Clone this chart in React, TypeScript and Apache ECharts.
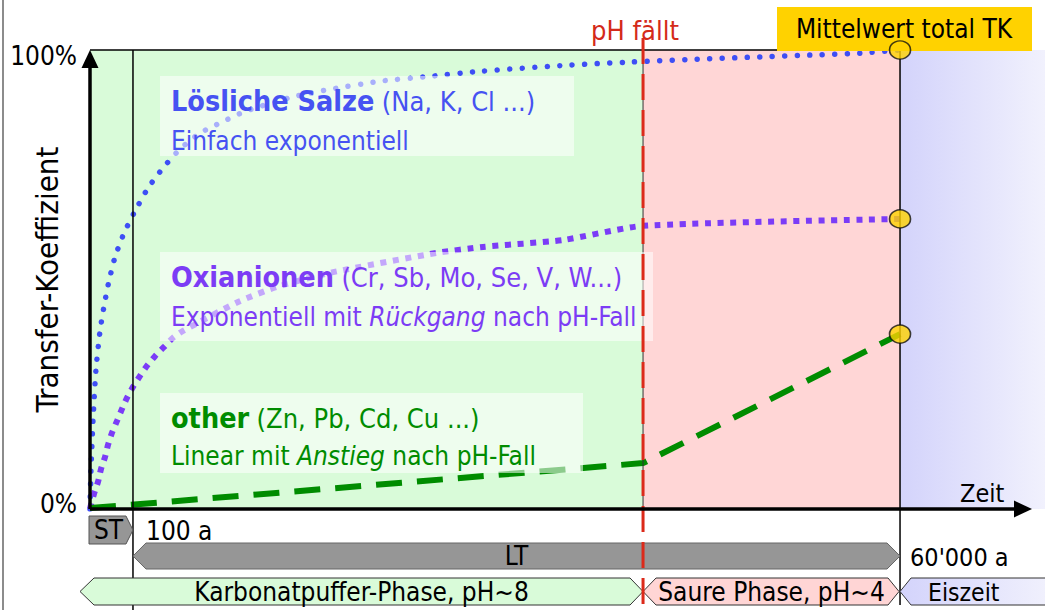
import React, { useEffect, useRef } from "react";
import * as echarts from "echarts";

const FONT = "'DejaVu Sans Condensed', 'DejaVu Sans', sans-serif";

// Schematic time axis (0–100) and its phase boundaries
const ST_END = 4.5; // 100 a
const PH_FALL = 57.91; // pH fällt
const LT_END = 84.82; // 60'000 a
const X_MAX = 100;

// y tick labels
const yTicks = [0, 100];
const Y_NAME = "Transfer-Koeffizient";

// Lösliche Salze (Na, K, Cl ...) – einfach exponentiell
const solubleX = [0, 0.1, 0.31, 0.63, 1.05, 1.47, 1.99, 2.62, 3.56, 4.71, 6.07, 7.64, 9.42, 11.52, 13.82, 16.34, 21.26, 25.34, 30.37, 35.81, 41.05, 50.05, 56.75, 63.56, 70.16, 75.39, 80.63, 84.82];
const solubleY = [0, 8.5, 19.4, 30.5, 38.8, 44.2, 49.7, 54.9, 60.1, 64.9, 69.9, 74.3, 78.4, 81.9, 84.3, 86.7, 89.8, 91.5, 93.2, 94.3, 95.4, 96.7, 97.4, 98.0, 98.5, 98.9, 99.3, 100];

// Oxianionen (Cr, Sb, Mo, Se, V, W...)
const oxX = [0, 0.1, 0.42, 0.84, 1.15, 1.57, 1.88, 2.3, 2.83, 3.35, 3.87, 4.5, 5.24, 5.97, 6.81, 7.75, 8.69, 9.74, 15.5, 19.58, 25.45, 36.34, 41.15, 49.53, 57.91, 84.82];
const oxY = [0, 0.9, 3.3, 5.9, 8.7, 11.3, 13.9, 16.6, 19.2, 21.8, 24.2, 26.6, 29.0, 31.2, 33.3, 35.3, 37.3, 38.8, 45.1, 48.4, 51.6, 55.8, 57.1, 58.6, 61.7, 63.2];

// other (Zn, Pb, Cd, Cu ...)
const otherX = [0, 57.91, 84.82];
const otherY = [0.2, 10.0, 38.1];

// Mittelwert total TK
const tkX = [84.82, 84.82, 84.82];
const tkY = [100, 63.2, 38.1];

const zip = (xs: number[], ys: number[]) => xs.map((x, i) => [x, ys[i]]);

export default function App() {
  const ref = useRef<HTMLDivElement>(null);
  useEffect(() => {
    if (!ref.current) return;
    const chart = echarts.init(ref.current, null, { renderer: "svg" });
    chart.setOption({
      animation: false,
      grid: { left: 90, right: 0, top: 50, bottom: 101, containLabel: false, outerBoundsMode: "none" },
      xAxis: { type: "value", min: 0, max: X_MAX, show: false },
      yAxis: {
        type: "value",
        min: yTicks[0],
        max: yTicks[1],
        interval: 100,
        axisLine: { show: false },
        axisTick: { show: false },
        splitLine: { show: false },
        axisLabel: {
          margin: 13,
          formatter: (v: number) => (v === 100 ? "{t|" + v + "%}" : "{b|" + v + "%}"),
          rich: {
            t: { fontSize: 26, fontFamily: FONT, color: "#000", padding: [12, 0, 0, 0] },
            b: { fontSize: 26, fontFamily: FONT, color: "#000", padding: [0, 0, 10, 0] },
          },
        },
      },
      series: [
        {
          type: "line",
          z: 0,
          data: [[0, 0]],
          symbol: "none",
          lineStyle: { opacity: 0 },
          silent: true,
          markArea: {
            silent: true,
            data: [
              [{ xAxis: 0, yAxis: 0, itemStyle: { color: "#d9fbd9" } }, { xAxis: PH_FALL, yAxis: 100 }],
              [{ xAxis: PH_FALL, yAxis: 0, itemStyle: { color: "#ffd6d6" } }, { xAxis: LT_END, yAxis: 100 }],
              [
                {
                  xAxis: LT_END,
                  yAxis: 0,
                  itemStyle: {
                    color: new echarts.graphic.LinearGradient(0, 0, 1, 0, [
                      { offset: 0, color: "#d3d3fb" },
                      { offset: 1, color: "#f1f1fd" },
                    ]),
                  },
                },
                { xAxis: X_MAX, yAxis: 100 },
              ],
            ],
          },
        },
        {
          type: "line",
          z: 2,
          data: zip(solubleX, solubleY),
          symbol: "none",
          smooth: 0.2,
          lineStyle: { color: "#3e4ef5", width: 5.5, type: [0.01, 12.5], cap: "round" },
        },
        {
          type: "line",
          z: 2,
          data: zip(oxX, oxY),
          symbol: "none",
          smooth: 0.2,
          lineStyle: { color: "#7b3cf7", width: 6, type: [6, 6.6], cap: "butt" },
        },
        {
          type: "line",
          z: 2,
          data: zip(otherX, otherY),
          symbol: "none",
          lineStyle: { color: "#008c00", width: 6, type: [26, 15] },
        },
        {
          type: "scatter",
          z: 10,
          data: zip(tkX, tkY),
          symbol: "circle",
          symbolSize: [21, 18],
          itemStyle: { color: "#ffd200", borderColor: "#111", borderWidth: 1.5 },
        },
      ],
    });

    const px = (x: number) => chart.convertToPixel({ gridIndex: 0 }, [x, 0])[0];
    const py = (y: number) => chart.convertToPixel({ gridIndex: 0 }, [0, y])[1];
    const x0 = px(0);
    const xs = px(ST_END);
    const xp = px(PH_FALL);
    const xl = px(LT_END);
    const y0 = py(0);
    const y100 = py(100);

    const txt = (text: string, x: number, y: number, extra: any = {}) => ({
      type: "text",
      z: 8,
      style: {
        text,
        x,
        y,
        fill: "#000",
        fontSize: 26,
        fontFamily: FONT,
        align: "left",
        verticalAlign: "middle",
        ...extra,
      },
    });
    const richStyle = (color: string) => ({
      b: { fontSize: 28.5, fontWeight: "bold", fontFamily: FONT, fill: color, color },
      p: { fontSize: 27, fontFamily: FONT, fill: color, color },
      n: { fontSize: 26, fontFamily: FONT, fill: color, color },
      i: { fontSize: 26, fontStyle: "italic", fontFamily: FONT, fill: color, color },
    });
    const box = (x: number, y: number, w: number, h: number) => ({
      type: "rect",
      z: 6,
      shape: { x, y, width: w, height: h },
      style: { fill: "rgba(255,255,255,0.55)" },
    });
    const poly = (points: number[][], fill: any, stroke = "#333") => ({
      type: "polygon",
      z: 5,
      shape: { points },
      style: { fill, stroke, lineWidth: 1 },
    });
    const line = (x1: number, y1: number, x2: number, y2: number, stroke = "#000", lineWidth = 1.5, extra: any = {}) => ({
      type: "line",
      z: 4,
      shape: { x1, y1, x2, y2 },
      style: { stroke, lineWidth, ...extra },
    });

    chart.setOption({
      graphic: [
        line(3, 0, 3, 610, "#8c8c8c", 2),
        // y axis name
        {
          type: "text",
          z: 8,
          x: 47,
          y: (y0 + y100) / 2,
          rotation: Math.PI / 2,
          style: {
            text: Y_NAME,
            x: 0,
            y: 0,
            fill: "#000",
            fontSize: 31,
            fontFamily: FONT,
            align: "center",
            verticalAlign: "middle",
          },
        },
        // frame lines
        line(x0, y100, xl, y100),
        line(xs, y100, xs, 610),
        line(xl, y100, xl, 605),
        line(xp, y100, xp, y0, "#333", 1),
        // bottom bars
        poly([[x0 - 1, 516], [xs - 7, 516], [xs, 530], [xs - 7, 544], [x0 - 1, 544]], "#969696", "#555"),
        poly([[xs, 556], [xs + 13, 543], [xl - 13, 543], [xl, 556], [xl - 13, 569], [xs + 13, 569]], "#969696", "#666"),
        poly([[80, 591.5], [94, 578], [xp - 13, 578], [xp, 591.5], [xp - 13, 605], [94, 605]], "#d9fbd9"),
        poly([[xp, 591.5], [xp + 13, 578], [xl - 12, 578], [xl - 1, 591.5], [xl - 12, 605], [xp + 13, 605]], "#ffd5d5"),
        poly(
          [[xl, 591.5], [xl + 11, 578], [1050, 578], [1050, 605], [xl + 11, 605]],
          new echarts.graphic.LinearGradient(0, 0, 1, 0, [
            { offset: 0, color: "#d3d3fb" },
            { offset: 1, color: "#f1f1fd" },
          ])
        ),
        // red dashed pH line
        { ...line(xp, 38, xp, 610, "#dc2a1a", 3, { lineDash: [26, 10] }), z: 7 },
        // axes
        { ...line(x0, y0, 1014, y0, "#000", 3.5), z: 7 },
        { type: "polygon", z: 7, shape: { points: [[1014, y0 - 8.5], [1032, y0], [1014, y0 + 8.5]] }, style: { fill: "#000" } },
        { ...line(x0, y0, x0, 66, "#000", 3.5), z: 7 },
        { type: "polygon", z: 7, shape: { points: [[x0 - 8.5, 68], [x0, y100], [x0 + 8.5, 68]] }, style: { fill: "#000" } },
        // top labels
        txt("pH fällt", xp - 8, 30, { align: "center", fill: "#d42a1a", fontSize: 27 }),
        { type: "rect", z: 6, shape: { x: 777, y: 7, width: 255, height: 44 }, style: { fill: "#ffd200" } },
        txt("Mittelwert total TK", 904, 29, { align: "center" }),
        txt("Zeit", 960, 493, { fontSize: 25 }),
        // text boxes
        box(160, 76, 414, 80),
        box(160, 252, 493, 89),
        box(160, 393, 423, 80),
        txt("{b|Lösliche Salze} {p|(Na, K, Cl ...)}", 171, 101, { rich: richStyle("#4652f2") }),
        txt("Einfach exponentiell", 171, 141, { fill: "#4652f2" }),
        txt("{b|Oxianionen} {p|(Cr, Sb, Mo, Se, V, W...)}", 171, 277, { rich: richStyle("#7c3cf5") }),
        txt("{n|Exponentiell mit }{i|Rückgang}{n| nach pH-Fall}", 171, 317, { rich: richStyle("#7c3cf5") }),
        txt("{b|other} {p|(Zn, Pb, Cd, Cu ...)}", 171, 418, { rich: richStyle("#008c00") }),
        txt("{n|Linear mit }{i|Anstieg}{n| nach pH-Fall}", 171, 456, { rich: richStyle("#008c00") }),
        // bottom labels
        txt("ST", (x0 + xs) / 2 - 3, 530, { align: "center" }),
        txt("100 a", 146, 531),
        txt("LT", (xs + xl) / 2, 556, { align: "center" }),
        txt("60'000 a", xl + 10, 557, { fontSize: 25 }),
        txt("Karbonatpuffer-Phase, pH~8", (80 + xp) / 2, 592, { align: "center" }),
        txt("Saure Phase, pH~4", (xp + xl) / 2, 592, { align: "center" }),
        txt("Eiszeit", 928, 592, { fontSize: 24.5 }),
      ],
    });
    return () => chart.dispose();
  }, []);
  return (
    <div
      ref={ref}
      style={{ position: "fixed", left: 0, top: 0, width: 1045, height: 610, background: "#fff" }}
    />
  );
}
